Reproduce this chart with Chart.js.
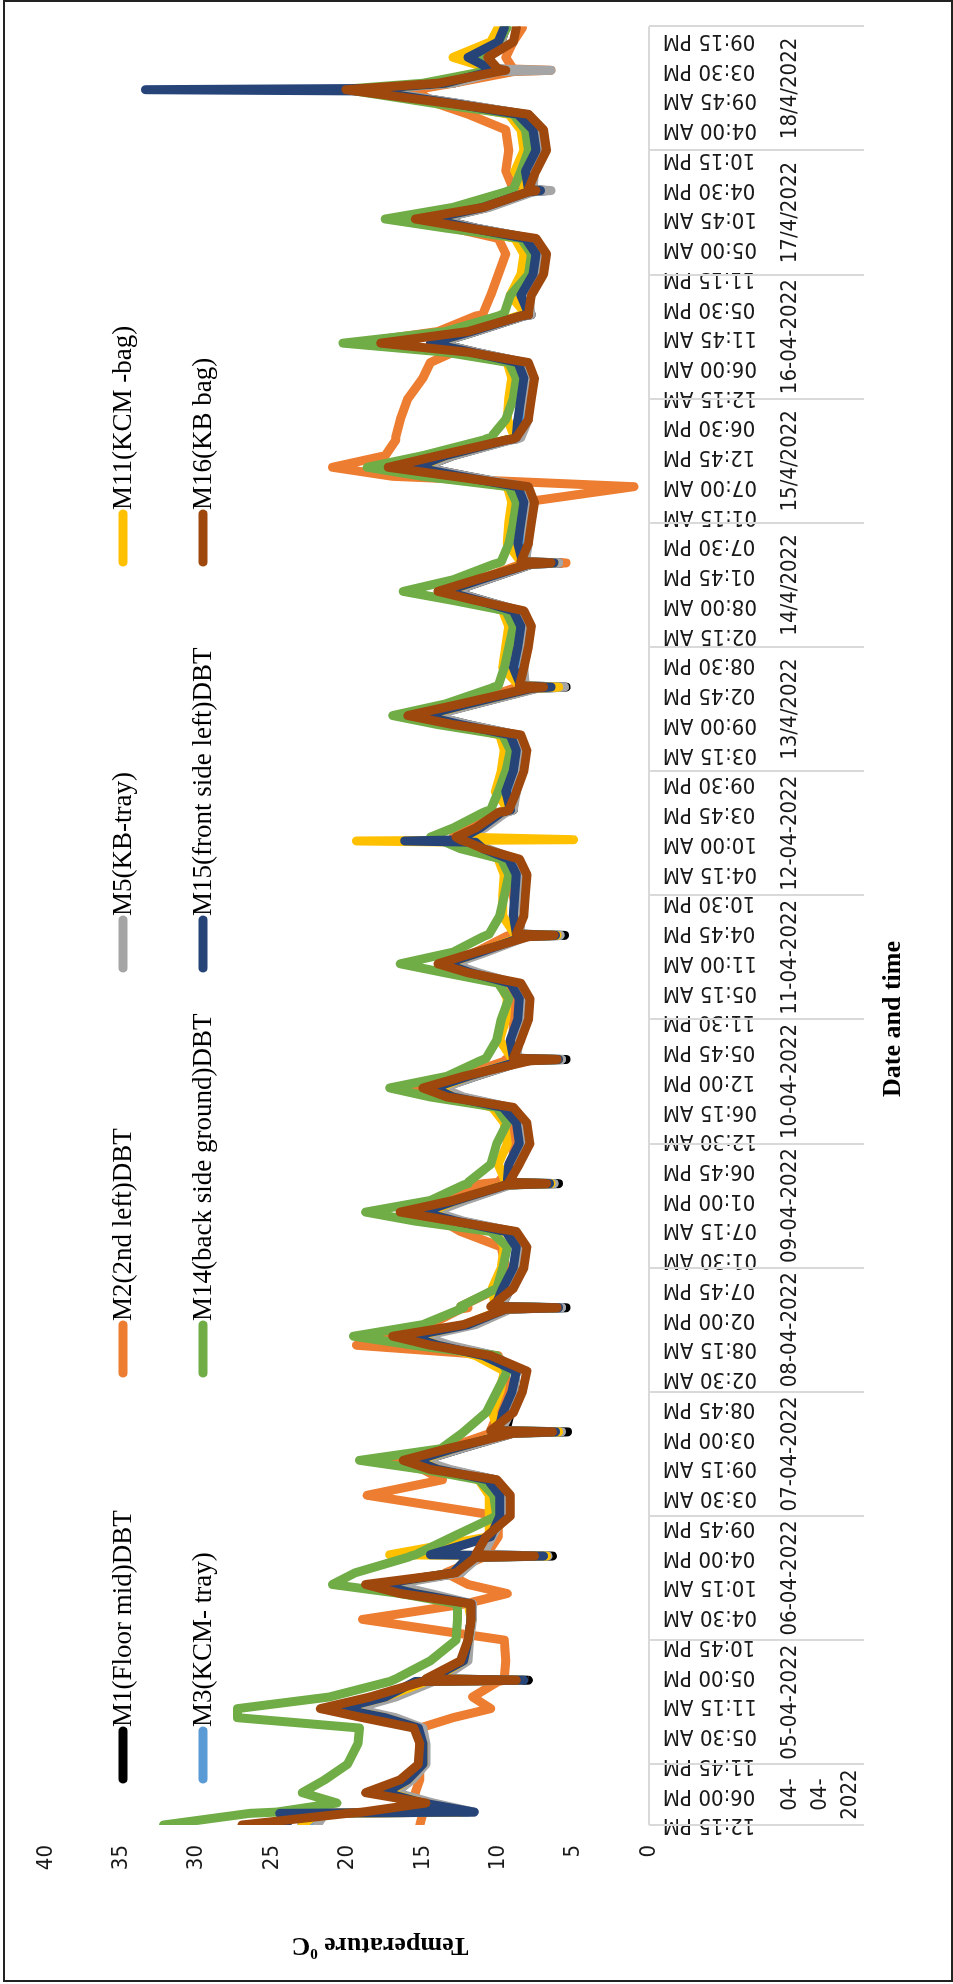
<!DOCTYPE html>
<html>
<head>
<meta charset="utf-8">
<script src="https://cdn.jsdelivr.net/npm/chart.js@4.4.0/dist/chart.umd.min.js"></script>
<style>
  html, body { margin: 0; padding: 0; background: #fff; }
  body { width: 953px; height: 1984px; overflow: hidden; position: relative; }
  #wrap { position: absolute; left: 0; top: 0; width: 1984px; height: 953px;
          transform-origin: 0 0; transform: translate(0px, 1984px) rotate(-90deg); }
  #frame { position: absolute; left: 3px; top: 0; width: 946px; height: 1978px;
           border: 2px solid #222; pointer-events: none; }
</style>
</head>
<body>
<div id="wrap"><canvas id="chart" width="1984" height="953"></canvas></div>
<div id="frame"></div>
<script>
// hours counted from 04-04-2022 00:00
const hours = [
  12.25, 14.5, 14.75, 16.5, 18.5, 21,
  24, 28, 31, 33, 34.75, 37, 40, 40.25, 40.5, 44,
  48, 52, 55, 57, 58.75, 61, 64, 64.25, 64.5, 68,
  72, 76, 79, 81, 82.75, 85, 88, 88.25, 88.5, 92,
  96, 100, 103, 105, 106.75, 109, 112, 112.25, 112.5, 116,
  120, 124, 127, 129, 130.75, 133, 136, 136.25, 136.5, 140,
  144, 148, 151, 153, 154.75, 157, 160, 160.25, 160.5, 164,
  168, 172, 175, 177, 178.75, 181, 184, 184.25, 184.5, 188,
  192, 196, 199, 201, 202.25, 202.5, 202.75, 203.25, 205, 208, 208.25, 208.5, 212,
  216, 220, 223, 225, 226.75, 229, 232, 232.25, 232.5, 236,
  240, 244, 247, 249, 250.75, 253, 256, 256.25, 256.5, 260,
  264, 268, 271, 273, 274.75, 277, 280, 280.25, 280.5, 284,
  288, 292, 295, 297, 298.75, 301, 304, 304.25, 304.5, 308,
  312, 316, 319, 321, 322.75, 325, 328, 328.25, 328.5, 332,
  336, 340, 343, 345, 347.5, 347.75, 348, 349, 351.25, 351.5, 351.75, 354, 357, 359.75
];

const m1 = [
  23, 23, 12, 14.5, 17, 15.8,
  15, 15, 15.2, 17, 20, 17, 14.5, 8, 14, 12.2,
  12, 11.8, 11.8, 15, 17.5, 12.5, 11.5, 6.4, 11, 10.5,
  9.5, 9.5, 10.2, 13.5, 15, 12.5, 9, 5.4, 9.5, 9.2,
  9, 8.8, 10.3, 13.5, 15.3, 11.8, 9.3, 5.5, 9.8, 9.2,
  8.8, 8.6, 9.1, 12.5, 14.5, 12.3, 9.3, 6, 9.2, 8.8,
  8.5, 8.6, 9.3, 12.5, 13.8, 11.5, 8.3, 5.5, 8.8, 8.7,
  8.5, 8.4, 9, 11.5, 13, 11, 8.2, 5.6, 8.6, 8.5,
  8.6, 8.5, 9, 10.8, 11.5, 11.8, 12, 12.3, 11, 9.6, 9.3, 9, 8.9,
  8.6, 8.4, 8.8, 12, 14.5, 11.5, 7.5, 5.5, 8.3, 8.4,
  8.3, 8.1, 8.6, 11, 13, 10.8, 7.8, 5.8, 8.2, 8.1,
  8.1, 7.9, 8.3, 12, 15, 13, 9.3, 8.8, 8.6, 8.1,
  8.1, 7.9, 8.3, 11.5, 14, 11.5, 8.3, 7.8, 7.9, 8,
  7.4, 7.1, 7.9, 11.5, 14, 10.7, 7.8, 6.8, 7.8, 7.7,
  7.1, 7.3, 8.3, 12.5, 18, 18.5, 17.5, 13, 10, 8, 10, 11.5, 9.8, 9.5
];
const m2 = [
  15.2, 15, 14.8, 15.5, 15.5, 15.2,
  15.2, 15.2, 15.2, 13, 10.5, 11.7, 10, 9.6, 9.6, 9.5,
  9.6, 19, 12.2, 9.4, 12, 13.5, 11, 11, 10.8, 10,
  10, 18.7, 13.7, 15, 18, 13.5, 10.5, 10.5, 10.5, 10,
  9.5, 9.5, 10, 19.4, 17, 14.5, 12.5, 12, 12.5, 10,
  9.5, 9.8, 12.5, 13.7, 16.5, 13.5, 11.5, 11, 10, 9,
  9, 9, 10, 13, 15.5, 12.5, 9.5, 9.5, 9, 9,
  9, 8.8, 9.5, 12, 13.5, 11.5, 9.5, 9.3, 9, 8.8,
  9, 8.8, 9.3, 11, 12, 12.3, 12.5, 13, 12, 10, 9.8, 9.5, 9,
  9, 8.8, 9.2, 12.5, 15, 12, 9, 8.5, 8.8, 8.8,
  8.8, 8.5, 9, 11.5, 13.5, 11.3, 8.5, 5.5, 8.5, 8.5,
  8.5, 8.3, 1, 17, 21, 17.5, 16.8, 16.8, 16.8, 16.5,
  16, 15, 14.5, 13, 19.5, 14, 11.5, 11, 11, 10.5,
  10, 9.5, 10, 13, 15.5, 11.5, 9, 8.5, 9, 9.5,
  9.3, 9.5, 12, 14, 15.5, 15.5, 15, 13, 9, 6.5, 9, 9.5, 9, 8.4
];
const m3 = [
  22.5, 22, 12, 14.5, 17, 15.8,
  15.2, 15, 15.2, 17, 20, 17, 14.5, 8.5, 14, 12.2,
  12, 11.8, 11.8, 15, 17.5, 12.8, 11.8, 6.8, 11.5, 10.6,
  9.6, 9.6, 10.3, 13.5, 15.2, 12.8, 9.2, 6, 9.8, 9.3,
  9, 8.8, 10.3, 13.5, 15.4, 11.8, 9.4, 5.8, 10, 9.3,
  8.8, 8.6, 9.1, 12.5, 14.5, 12.5, 9.4, 6.3, 9.3, 8.9,
  8.5, 8.6, 9.3, 12.7, 14, 11.8, 8.4, 5.8, 8.9, 8.8,
  8.5, 8.4, 9, 11.6, 13.2, 11, 8.3, 5.9, 8.7, 8.6,
  8.6, 8.5, 9, 10.9, 11.6, 11.9, 12.1, 12.4, 11, 9.7, 9.4, 9.1, 9,
  8.6, 8.4, 8.8, 12.2, 14.6, 11.7, 7.6, 5.8, 8.4, 8.5,
  8.3, 8.1, 8.6, 11.2, 13.2, 11, 7.9, 6, 8.3, 8.2,
  8.1, 7.9, 8.3, 12.2, 15.2, 13.2, 9.4, 8.9, 8.7, 8.2,
  8.1, 7.9, 8.3, 11.6, 14.2, 11.6, 8.4, 7.9, 8, 8,
  7.4, 7.1, 7.9, 11.6, 14.2, 10.8, 7.9, 7, 7.9, 7.8,
  7.1, 7.3, 8.3, 12.6, 18.2, 18.5, 17.7, 13.2, 10.2, 8.5, 10.2, 11.8, 10, 9.6
];
const m5 = [
  22, 21.5, 11.6, 14.3, 16.8, 15.7,
  14.8, 14.8, 15, 16.8, 19.5, 16.8, 14.3, 8.6, 13.8, 12,
  11.9, 11.7, 11.7, 14.5, 17, 12.5, 11.3, 6.7, 11, 10.4,
  9.6, 9.6, 10.2, 13.2, 15, 12.5, 9, 5.8, 9.8, 9.2,
  9, 8.8, 10.2, 13.2, 15, 11.5, 9.2, 5.8, 9.8, 9.2,
  8.8, 8.5, 9, 12.3, 14.2, 12.2, 9.2, 6.3, 9.2, 8.8,
  8.5, 8.5, 9.2, 12.3, 13.7, 11.5, 8.3, 5.8, 8.8, 8.6,
  8.4, 8.3, 8.9, 11.3, 13, 10.8, 8.1, 5.9, 8.6, 8.5,
  8.5, 8.4, 8.9, 10.7, 11.4, 11.7, 11.9, 12.2, 10.9, 9.5, 9.2, 9, 8.8,
  8.5, 8.3, 8.7, 12, 14.3, 11.5, 7.4, 5.6, 8.2, 8.3,
  8.2, 8, 8.5, 11, 13, 10.8, 7.8, 6, 8.2, 8,
  8, 7.8, 8.2, 12, 15, 13, 9.2, 8.7, 8.5, 8,
  8, 7.8, 8.2, 11.5, 14, 11.5, 8.3, 7.8, 7.9, 7.9,
  7.3, 7, 7.8, 11.5, 14, 10.6, 7.7, 6.5, 7.7, 7.6,
  7, 7.2, 8.2, 12.4, 18, 18.3, 17.4, 13, 10, 6.5, 10, 11.4, 9.8, 9.5
];
const m11 = [
  23, 22, 12.5, 15, 17.3, 16,
  15, 15, 15.4, 17.5, 20.5, 17.5, 14.8, 8.5, 14.3, 12.3,
  12, 11.8, 12, 15.5, 18, 13, 12, 6.8, 17.2, 10.6,
  10.6, 10.6, 11.3, 14, 15.3, 13, 9.4, 6, 10, 10.4,
  9.9, 9.6, 11.5, 14, 15.5, 12.2, 9.6, 6.2, 10.2, 10.4,
  9.8, 9.6, 10.2, 13, 14.6, 12.8, 9.6, 6.5, 9.5, 10,
  9.4, 9.6, 10.4, 13, 14, 12, 8.6, 6, 9.1, 9.9,
  9.5, 9.4, 9.9, 12, 13.3, 11.3, 8.4, 6.1, 8.9, 9.7,
  9.7, 9.6, 10, 11.2, 11.8, 19.4, 5, 12.5, 11.3, 9.8, 9.5, 9.3, 10.2,
  9.8, 9.6, 9.9, 12.8, 14.8, 12, 7.8, 6, 8.6, 9.7,
  9.5, 9.3, 9.7, 11.6, 13.3, 11.3, 8.1, 6.3, 8.5, 9.4,
  9.3, 9.1, 9.4, 12.8, 15.3, 13.5, 9.6, 9.1, 8.9, 9.4,
  9.3, 9.1, 9.4, 12, 14.3, 12, 8.7, 8.2, 8.2, 9.2,
  8.5, 8.3, 8.9, 12, 14.3, 11.2, 8.2, 7.3, 8.2, 8.9,
  8.3, 8.5, 9.3, 13, 18.5, 19, 18, 13.5, 10.5, 10, 10.5, 13, 10.5, 10
];
const m14 = [
  32.2, 26.5, 24.7, 20.7, 23, 21.5,
  20, 19.3, 19.2, 27.3, 27.3, 21.2, 17.2, 17, 16.8, 14.5,
  12.8, 12.7, 12.7, 16.5, 21, 19.5, 16, 15.8, 15.5, 13,
  10.1, 10.3, 11.3, 15, 19.2, 13.8, 12.4, 12.3, 12.2, 10.8,
  10.1, 9.4, 10.1, 15.6, 19.6, 15, 12.5, 12.3, 12.5, 10.1,
  9.7, 9.4, 10.5, 15.5, 18.8, 14.5, 12.3, 12, 12, 10.5,
  10.1, 9.4, 10.1, 14.5, 17.2, 13.4, 11.2, 11, 10.8, 10.1,
  9.8, 9.3, 10, 13.5, 16.5, 13, 11, 10.8, 10.6, 9.9,
  9.6, 9.3, 9.8, 12.5, 13.5, 13.8, 14, 14.5, 13, 11, 10.8, 10.5, 10,
  9.5, 9.2, 9.7, 14, 17, 13.5, 10.5, 10.3, 10, 9.6,
  9.3, 9, 9.5, 13, 16.3, 13, 10.3, 10, 9.8, 9.3,
  9, 8.8, 9.3, 15, 18.7, 15, 11, 10.8, 10.5, 9.5,
  9, 8.8, 9.3, 13.5, 20.3, 13.5, 10, 9.8, 9.6, 9.2,
  8, 7.8, 8.5, 13.5, 17.5, 13, 9.5, 9.3, 9, 8.5,
  8, 8.2, 9, 14, 19.5, 19.8, 19.5, 15, 11, 10.8, 10.8, 11.5, 10, 9.4
];
const m15 = [
  24, 24.5, 11.6, 15, 17.5, 16,
  15, 15, 15.3, 17.5, 20.5, 17.5, 15.5, 8.3, 14.5, 12.3,
  12, 11.8, 11.8, 15.5, 18, 13, 12, 7, 14.5, 10.5,
  9.9, 9.9, 10.7, 14, 15.5, 13, 9.3, 6.2, 10, 9.7,
  9.1, 8.8, 11, 14, 15.8, 12, 9.5, 6, 10.2, 9.7,
  9, 8.8, 9.5, 12.8, 15, 12.8, 9.5, 6.6, 9.4, 9.3,
  8.6, 8.8, 9.7, 13, 14.3, 12, 8.5, 6, 9, 9.2,
  8.7, 8.6, 9.2, 11.8, 13.5, 11.2, 8.3, 6.2, 8.8, 9,
  8.9, 8.8, 9.3, 11, 11.5, 16.2, 12, 12.3, 11.2, 9.8, 9.5, 9.2, 9.5,
  9, 8.8, 9.2, 12.5, 15, 12, 7.8, 6.5, 8.5, 9,
  8.7, 8.5, 9, 11.3, 13.5, 11.2, 8, 6.3, 8.4, 8.7,
  8.5, 8.3, 8.7, 12.5, 15.5, 13.5, 9.5, 9, 8.8, 8.7,
  8.5, 8.3, 8.7, 11.8, 14.5, 11.8, 8.5, 8, 8, 8.5,
  7.7, 7.5, 8.2, 11.8, 14.5, 11, 8, 7.2, 8, 8.2,
  7.5, 7.7, 8.7, 12.8, 18.5, 33.4, 18, 13.5, 10.5, 10, 10.5, 12, 10, 9.6
];
const m16 = [
  27, 20, 19, 14.8, 18.8, 16.5,
  15.3, 15.2, 15.6, 19, 21.8, 18.5, 15, 8.8, 14.8, 12.5,
  12, 11.8, 11.8, 16.5, 18.8, 12.8, 11.5, 7.6, 11.5, 10.8,
  9.2, 9.2, 10.1, 14.5, 16.3, 13.4, 9, 6.4, 10.5, 9,
  8.4, 8.1, 10.5, 14.5, 17, 12.3, 9.5, 6.1, 10.5, 9,
  8.3, 8.1, 8.8, 13, 16.5, 13, 9.5, 6.8, 9.3, 8.6,
  7.9, 8.1, 9, 13.4, 15, 12.3, 7.9, 6.1, 9, 8.5,
  8, 7.9, 8.5, 12, 14, 11.5, 8, 6.3, 8.8, 8.3,
  8.2, 8.1, 8.6, 11, 12, 12.3, 12.5, 12.8, 11.5, 10, 9.5, 9.3, 8.8,
  8.3, 8.1, 8.5, 13, 16, 12.5, 8, 7, 8.6, 8.3,
  8, 7.8, 8.3, 11.5, 14, 11.5, 8, 6.5, 8.5, 8,
  7.8, 7.6, 8, 13, 17.3, 14, 9.5, 9, 8.8, 8,
  7.8, 7.6, 8, 12, 17.8, 12, 8.5, 8, 8, 7.8,
  7, 6.8, 7.5, 12, 15.5, 11, 8, 7.5, 8, 7.5,
  6.8, 7, 8, 13, 19.5, 20.1, 19, 14, 10, 9.5, 10, 10.7, 9, 8.8
];

const seriesNames = ['M1(Floor mid)DBT', 'M2(2nd left)DBT', 'M3(KCM- tray)', 'M5(KB-tray)',
  'M11(KCM -bag)', 'M14(back side ground)DBT', 'M15(front side left)DBT', 'M16(KB bag)'];
const seriesValues = [m1, m2, m3, m5, m11, m14, m15, m16];
const seriesColors = ['#000000', '#ED7D31', '#5B9BD5', '#A5A5A5', '#FFC000', '#70AD47', '#264478', '#9E480E'];
// legend grid, row by row (series index)
const legendRows = [[0, 1, 3, 4], [2, 5, 6, 7]];

// day groups on the category axis
const dayStarts = [12.25, 24, 48, 72, 96, 120, 144, 168, 192, 216, 240, 264, 288, 312, 336];
const dayEnd = 360;
const dateLabels = [['04-', '04-', '2022'], '05-04-2022', '06-04-2022', '07-04-2022', '08-04-2022',
  '09-04-2022', '10-04-2022', '11-04-2022', '12-04-2022', '13/4/2022', '14/4/2022', '15/4/2022',
  '16-04-2022', '17/4/2022', '18/4/2022'];
const tickFirst = 12.25, tickStep = 5.75;

function hasFont(name) {
  const c = document.createElement('canvas').getContext('2d');
  const s = 'mmmmmwwwwiiiil0123456789:-/';
  c.font = '40px monospace';
  const a = c.measureText(s).width;
  c.font = '40px "' + name + '", monospace';
  return Math.abs(c.measureText(s).width - a) > 0.5;
}
let axisFont;
if (hasFont('Liberation Sans Narrow')) axisFont = { family: '"Liberation Sans Narrow"', size: 26 };
else if (hasFont('DejaVu Sans Condensed')) axisFont = { family: '"DejaVu Sans Condensed"', size: 22 };
else axisFont = { family: '"Liberation Sans", Arial, sans-serif', size: 21 };

function fmtTime(v) {
  const mins = Math.round((v % 24) * 60);
  let hh = Math.floor(mins / 60);
  const mm = mins % 60;
  const ap = hh < 12 ? 'AM' : 'PM';
  hh = hh % 12 || 12;
  return String(hh).padStart(2, '0') + ':' + String(mm).padStart(2, '0') + ' ' + ap;
}

const tickHours = [];
for (let v = tickFirst; v <= dayEnd; v += tickStep) tickHours.push(v);

// draw order: M16 on top ... M1 at the bottom
const drawOrder = [8, 7, 6, 5, 4, 3, 2, 1];
const datasets = seriesValues.map((vals, i) => ({
  label: seriesNames[i],
  data: hours.map((h, j) => ({ x: h, y: vals[j] })),
  borderColor: seriesColors[i],
  backgroundColor: seriesColors[i],
  order: drawOrder[i],
  fill: false
}));

const serif = '"Liberation Serif", "Times New Roman", serif';

const decor = {
  id: 'decor',
  afterDraw(chart) {
    const ctx = chart.ctx;
    const xs = chart.scales.x;
    const area = chart.chartArea;
    ctx.save();

    // category axis line and day separators
    ctx.strokeStyle = '#d9d9d9';
    ctx.lineWidth = 2;
    ctx.beginPath();
    ctx.moveTo(area.left, area.bottom);
    ctx.lineTo(area.right, area.bottom);
    ctx.stroke();
    dayStarts.concat([dayEnd]).forEach(h => {
      const x = Math.round(xs.getPixelForValue(h));
      ctx.beginPath();
      ctx.moveTo(x, area.bottom);
      ctx.lineTo(x, area.bottom + 215);
      ctx.stroke();
    });

    // date labels
    ctx.fillStyle = '#1a1a1a';
    ctx.font = axisFont.size + 'px ' + axisFont.family;
    ctx.textAlign = 'center';
    ctx.textBaseline = 'middle';
    dateLabels.forEach((lab, i) => {
      const a = dayStarts[i];
      const b = i + 1 < dayStarts.length ? dayStarts[i + 1] : dayEnd;
      const cx = (xs.getPixelForValue(a) + xs.getPixelForValue(b)) / 2;
      const lines = Array.isArray(lab) ? lab : [lab];
      lines.forEach((t, k) => ctx.fillText(t, cx, area.bottom + 141 + k * 30));
    });

    // axis titles
    ctx.fillStyle = '#000';
    ctx.font = 'bold 26px ' + serif;
    ctx.fillText('Date and time', 965, 893);

    ctx.save();
    ctx.translate(37, 380);
    ctx.rotate(-Math.PI / 2);
    const big = 'bold 26px ' + serif, small = 'bold 15px ' + serif;
    ctx.font = big;
    const w1 = ctx.measureText('Temperature ').width;
    const w3 = ctx.measureText('C').width;
    ctx.font = small;
    const w2 = ctx.measureText('0').width;
    const x0 = -(w1 + w2 + w3) / 2;
    ctx.textAlign = 'left';
    ctx.textBaseline = 'alphabetic';
    ctx.font = big;
    ctx.fillText('Temperature ', x0, 9);
    ctx.font = small;
    ctx.fillText('0', x0 + w1, -2);
    ctx.font = big;
    ctx.fillText('C', x0 + w1 + w2, 9);
    ctx.restore();

    // legend
    const colX = [201, 607, 1012, 1418];
    const rowY = [123, 203];
    ctx.font = '27px ' + serif;
    ctx.textAlign = 'left';
    ctx.textBaseline = 'middle';
    ctx.lineCap = 'round';
    legendRows.forEach((row, r) => {
      row.forEach((si, c) => {
        const x = colX[c], y = rowY[r];
        ctx.strokeStyle = seriesColors[si];
        ctx.lineWidth = 9;
        ctx.beginPath();
        ctx.moveTo(x + 4, y);
        ctx.lineTo(x + 52, y);
        ctx.stroke();
        ctx.fillStyle = '#000';
        ctx.fillText(seriesNames[si], x + 56, y + 1);
      });
    });
    ctx.restore();
  }
};

new Chart(document.getElementById('chart'), {
  type: 'line',
  data: { datasets },
  options: {
    responsive: false,
    animation: false,
    devicePixelRatio: 1,
    layout: { padding: { top: 46, right: 20, left: 0, bottom: 0 } },
    elements: {
      point: { radius: 0 },
      line: { borderWidth: 9, tension: 0, borderJoinStyle: 'round', borderCapStyle: 'round' }
    },
    plugins: { legend: { display: false }, tooltip: { enabled: false } },
    scales: {
      x: {
        type: 'linear',
        min: 12.25,
        max: dayEnd,
        afterBuildTicks: s => { s.ticks = tickHours.map(v => ({ value: v })); },
        afterFit: s => { s.height = 304; },
        grid: { display: false, drawTicks: false },
        border: { display: false },
        ticks: {
          autoSkip: false, minRotation: 90, maxRotation: 90, padding: 14,
          color: '#1a1a1a', font: { family: axisFont.family, size: axisFont.size },
          callback: v => fmtTime(v)
        }
      },
      y: {
        min: 0,
        max: 40,
        afterFit: s => { s.width = 159; },
        grid: { display: false, drawTicks: false },
        border: { display: false },
        ticks: {
          stepSize: 5, padding: 20, color: '#1a1a1a',
          font: { family: axisFont.family, size: axisFont.size }
        }
      }
    }
  },
  plugins: [decor]
});
</script>
</body>
</html>
